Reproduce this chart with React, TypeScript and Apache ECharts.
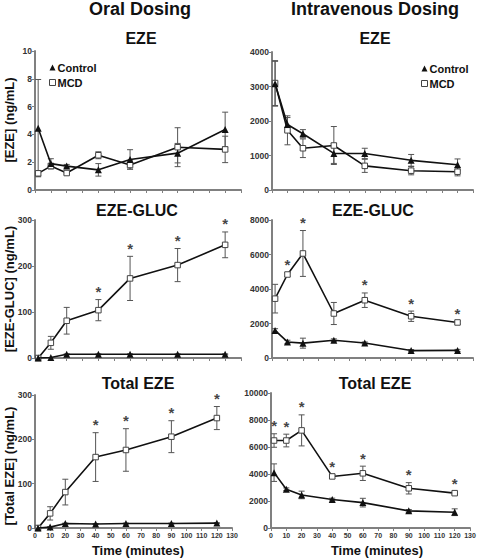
import React, { useEffect, useRef } from 'react';
import * as echarts from 'echarts';

// ---- data ----
const times = [2, 10, 20, 40, 60, 90, 120];
const xTicks = [0, 10, 20, 30, 40, 50, 60, 70, 80, 90, 100, 110, 120, 130];

// Oral EZE
const oralEzeControl = [4.45, 1.9, 1.72, 1.45, 2.2, 2.65, 4.35];
const oralEzeControlErr = [3.5, 0.35, 0.12, 0.45, 0.7, 0.7, 1.25];
const oralEzeMcd = [1.2, 1.72, 1.22, 2.5, 1.8, 3.08, 2.92];
const oralEzeMcdErr = [0.2, 0.2, 0.08, 0.25, 0.3, 1.4, 0.95];
const oralEzeStars = [false, false, false, false, false, false, false];

// IV EZE
const ivEzeControl = [3080, 1900, 1630, 1060, 1060, 860, 730];
const ivEzeControlErr = [650, 200, 120, 290, 150, 170, 170];
const ivEzeMcd = [3100, 1730, 1210, 1290, 700, 560, 530];
const ivEzeMcdErr = [650, 420, 270, 550, 190, 120, 120];
const ivEzeStars = [false, false, false, false, false, false, false];

// Oral EZE-GLUC
const oralGlucControl = [0, 1, 8, 8, 8, 8, 8];
const oralGlucControlErr = [0, 0, 1, 1, 1, 1, 1];
const oralGlucMcd = [0, 33, 81, 104, 173, 202, 246];
const oralGlucMcdErr = [2, 14, 29, 23, 48, 36, 28];
const oralGlucStars = [false, false, false, true, true, true, true];

// IV EZE-GLUC
const ivGlucControl = [1600, 930, 860, 1030, 870, 430, 440];
const ivGlucControlErr = [100, 100, 290, 80, 60, 60, 60];
const ivGlucMcd = [3440, 4840, 6060, 2580, 3350, 2420, 2060];
const ivGlucMcdErr = [830, 100, 1330, 640, 420, 300, 80];
const ivGlucStars = [false, true, true, false, true, true, true];

// Oral Total EZE
const oralTotalControl = [0, 2, 10, 9, 10, 10, 11];
const oralTotalControlErr = [0, 1, 1, 1, 1, 1, 1];
const oralTotalMcd = [0, 33, 81, 160, 176, 206, 248];
const oralTotalMcdErr = [2, 15, 29, 55, 48, 36, 26];
const oralTotalStars = [false, false, false, true, true, true, true];

// IV Total EZE
const ivTotalControl = [4100, 2870, 2450, 2110, 1880, 1270, 1170];
const ivTotalControlErr = [650, 100, 280, 100, 320, 100, 250];
const ivTotalMcd = [6480, 6480, 7230, 3820, 4050, 2940, 2580];
const ivTotalMcdErr = [500, 470, 1150, 150, 530, 420, 100];
const ivTotalStars = [true, true, true, true, true, true, true];

const FONT = '"Liberation Sans", Arial, Helvetica, sans-serif';

type Panel = {
  control: number[]; controlErr: number[];
  mcd: number[]; mcdErr: number[];
  stars: boolean[]; yMax: number; yInterval: number;
  grid: { left: number; right: number; top: number; bottom: number };
  showX: boolean;
};

const panels: Panel[] = [
  { control: oralEzeControl, controlErr: oralEzeControlErr, mcd: oralEzeMcd, mcdErr: oralEzeMcdErr, stars: oralEzeStars, yMax: 10, yInterval: 2, grid: { left: 35, right: 239, top: 51, bottom: 368 }, showX: false },
  { control: ivEzeControl, controlErr: ivEzeControlErr, mcd: ivEzeMcd, mcdErr: ivEzeMcdErr, stars: ivEzeStars, yMax: 4000, yInterval: 1000, grid: { left: 272, right: 7, top: 52, bottom: 368 }, showX: false },
  { control: oralGlucControl, controlErr: oralGlucControlErr, mcd: oralGlucMcd, mcdErr: oralGlucMcdErr, stars: oralGlucStars, yMax: 300, yInterval: 100, grid: { left: 35, right: 239, top: 220, bottom: 200 }, showX: false },
  { control: ivGlucControl, controlErr: ivGlucControlErr, mcd: ivGlucMcd, mcdErr: ivGlucMcdErr, stars: ivGlucStars, yMax: 8000, yInterval: 2000, grid: { left: 272, right: 7, top: 220, bottom: 200 }, showX: false },
  { control: oralTotalControl, controlErr: oralTotalControlErr, mcd: oralTotalMcd, mcdErr: oralTotalMcdErr, stars: oralTotalStars, yMax: 300, yInterval: 100, grid: { left: 35, right: 248, top: 395, bottom: 30 }, showX: true },
  { control: ivTotalControl, controlErr: ivTotalControlErr, mcd: ivTotalMcd, mcdErr: ivTotalMcdErr, stars: ivTotalStars, yMax: 10000, yInterval: 2000, grid: { left: 271, right: 10, top: 393, bottom: 30 }, showX: true },
];

const errRender = (params: any, api: any) => {
  const x = api.value(0);
  const y = api.value(1);
  const e = api.value(2);
  if (!e) return null;
  const top = api.coord([x, y + e]);
  const bot = api.coord([x, Math.max(y - e, 0)]);
  const h = 3;
  const style = { stroke: '#555', lineWidth: 1 };
  return {
    type: 'group',
    children: [
      { type: 'line', shape: { x1: top[0], y1: top[1], x2: bot[0], y2: bot[1] }, style },
      { type: 'line', shape: { x1: top[0] - h, y1: top[1], x2: top[0] + h, y2: top[1] }, style },
      { type: 'line', shape: { x1: bot[0] - h, y1: bot[1], x2: bot[0] + h, y2: bot[1] }, style },
    ],
  };
};

function buildOption() {
  const grid = panels.map((p) => ({ ...p.grid, containLabel: false }));
  const xAxis = panels.map((p, i) => ({
    type: 'value', gridIndex: i, min: 0, max: 130, interval: 10,
    axisLine: { show: true, lineStyle: { color: '#808080', width: 2 } },
    axisTick: { show: true, length: 3, lineStyle: { color: '#808080', width: 1 } },
    axisLabel: {
      show: p.showX, fontSize: 7, fontWeight: 'bold', color: '#333', fontFamily: FONT, margin: 4,
      formatter: (v: number) => (xTicks.includes(v) ? String(v) : ''),
    },
    splitLine: { show: false },
  }));
  const yAxis = panels.map((p, i) => ({
    type: 'value', gridIndex: i, min: 0, max: p.yMax, interval: p.yInterval,
    axisLine: { show: true, lineStyle: { color: '#808080', width: 2 } },
    axisTick: { show: true, length: 3, lineStyle: { color: '#808080', width: 1 } },
    axisLabel: { fontSize: 8.5, fontWeight: 'bold', color: '#333', fontFamily: FONT, margin: 3, formatter: (v: number) => String(v) },
    splitLine: { show: false },
  }));

  const series: any[] = [];
  panels.forEach((p, i) => {
    series.push({
      type: 'custom', name: 'errC' + i, xAxisIndex: i, yAxisIndex: i, renderItem: errRender, z: 1,
      data: times.map((t, k) => [t, p.control[k], p.controlErr[k]]),
    });
    series.push({
      type: 'custom', name: 'errM' + i, xAxisIndex: i, yAxisIndex: i, renderItem: errRender, z: 1,
      data: times.map((t, k) => [t, p.mcd[k], p.mcdErr[k]]),
    });
    series.push({
      type: 'line', name: 'MCD', xAxisIndex: i, yAxisIndex: i, z: 3,
      data: times.map((t, k) => [t, p.mcd[k]]),
      symbol: 'rect', symbolSize: 5.5, showAllSymbol: true,
      lineStyle: { color: '#111', width: 1.6 },
      itemStyle: { color: '#fff', borderColor: '#444', borderWidth: 1 },
    });
    series.push({
      type: 'line', name: 'Control', xAxisIndex: i, yAxisIndex: i, z: 4,
      data: times.map((t, k) => [t, p.control[k]]),
      symbol: 'triangle', symbolSize: 7, showAllSymbol: true,
      lineStyle: { color: '#111', width: 1.6 },
      itemStyle: { color: '#111' },
    });
    series.push({
      type: 'scatter', name: 'stars' + i, xAxisIndex: i, yAxisIndex: i, z: 5,
      symbol: 'circle', symbolSize: 1, itemStyle: { color: 'rgba(0,0,0,0)' },
      data: times.filter((_, k) => p.stars[k]).map((t) => {
        const k = times.indexOf(t);
        return [t, p.mcd[k] + p.mcdErr[k]];
      }),
      label: { show: true, position: 'top', distance: 0, formatter: '*', fontSize: 15, fontWeight: 'bold', color: '#111', fontFamily: FONT },
    });
  });

  const legendStyle = {
    orient: 'vertical', selectedMode: false, itemWidth: 6, itemHeight: 6, itemGap: 4,
    textStyle: { fontSize: 11, fontWeight: 'bold', color: '#111', fontFamily: FONT, padding: [0, 0, 0, -3] },
    data: [
      { name: 'Control', icon: 'triangle', itemStyle: { color: '#111' } },
      { name: 'MCD', icon: 'rect', itemStyle: { color: '#fff', borderColor: '#444', borderWidth: 1 } },
    ],
  };

  const T = (text: string, x: number, y: number, size: number, rotate = 0) => ({
    type: 'text', x, y, rotation: rotate,
    style: { text, fontSize: size, fontWeight: 'bold', fill: '#111', fontFamily: FONT, align: 'center', verticalAlign: 'middle' },
  });

  return {
    animation: false,
    backgroundColor: '#fff',
    grid, xAxis, yAxis, series,
    legend: [
      { ...legendStyle, left: 44, top: 57 },
      { ...legendStyle, left: 416, top: 58 },
    ],
    graphic: [
      T('Oral Dosing', 140, 9, 18),
      T('Intravenous Dosing', 375, 9, 18),
      T('EZE', 141, 38, 16),
      T('EZE', 375, 38, 16),
      T('EZE-GLUC', 137, 210, 16),
      T('EZE-GLUC', 373, 210, 16),
      T('Total EZE', 138, 383, 16),
      T('Total EZE', 375, 383, 16),
      T('[EZE] (ng/mL)', 9, 120, 13, Math.PI / 2),
      T('[EZE-GLUC] (ng/mL)', 9, 289, 13, Math.PI / 2),
      T('[Total EZE] (ng/mL)', 9, 466, 13, Math.PI / 2),
      T('Time (minutes)', 138, 550, 13),
      T('Time (minutes)', 377, 550, 13),
    ],
  };
}

export default function App() {
  const ref = useRef<HTMLDivElement>(null);
  useEffect(() => {
    if (!ref.current) return;
    const chart = echarts.init(ref.current, null, { renderer: 'svg' });
    chart.setOption(buildOption() as any);
    return () => chart.dispose();
  }, []);
  return <div ref={ref} style={{ position: 'absolute', left: 0, top: 0, width: 480, height: 558 }} />;
}
